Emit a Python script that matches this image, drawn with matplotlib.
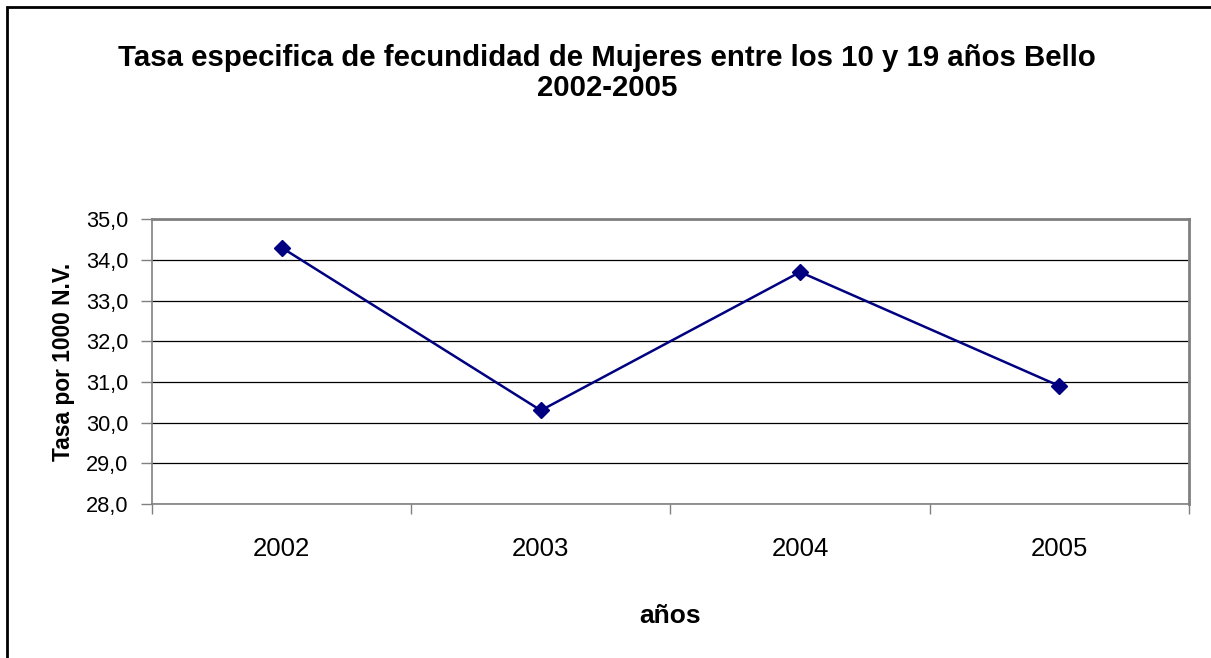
import matplotlib.pyplot as plt
from matplotlib.patches import Rectangle
from matplotlib.ticker import FuncFormatter, FixedLocator

years = ['2002', '2003', '2004', '2005']
tasa = [34.3, 30.3, 33.7, 30.9]

plt.rcParams['font.family'] = ['Liberation Sans', 'DejaVu Sans']

fig = plt.figure(figsize=(12.11, 6.58), dpi=100)
ax = fig.add_axes([0.1255, 0.234, 0.8563, 0.433])

x = range(len(years))
ax.plot(x, tasa, color='#000080', linewidth=1.8, marker='D', markersize=8,
        markerfacecolor='#000080', markeredgecolor='#000080', zorder=3)

ax.set_xlim(-0.5, len(years) - 0.5)
ax.set_ylim(28, 35)
ax.set_yticks([28, 29, 30, 31, 32, 33, 34, 35])
ax.yaxis.set_major_formatter(FuncFormatter(lambda v, p: f'{v:.1f}'.replace('.', ',')))
ax.grid(axis='y', color='black', linewidth=0.9)
ax.set_axisbelow(True)

# category labels at centres, tick marks at category edges (Excel style)
ax.set_xticks(list(x))
ax.set_xticklabels(years, fontsize=18.5)
ax.tick_params(axis='x', which='major', length=0, pad=24)
ax.xaxis.set_minor_locator(FixedLocator([i - 0.5 for i in range(len(years) + 1)]))
ax.tick_params(axis='x', which='minor', length=7, width=1, color='#808080', direction='out')
ax.tick_params(axis='y', length=8, width=1, color='#808080', labelsize=15.7, pad=9)

for s in ['top', 'right']:
    ax.spines[s].set_color('#808080')
    ax.spines[s].set_linewidth(2)
for s in ['left', 'bottom']:
    ax.spines[s].set_color('#808080')
    ax.spines[s].set_linewidth(1.2)

ax.set_ylabel('Tasa por 1000 N.V.', fontsize=16.4, fontweight='bold', labelpad=8)
ax.set_xlabel('años', fontsize=19, fontweight='bold', labelpad=31)

fig.text(0.5015, 0.889, 'Tasa especifica de fecundidad de Mujeres entre los 10 y 19 años Bello\n2002-2005',
         ha='center', va='center', fontsize=21.2, fontweight='bold', linespacing=1.12)

# outer chart border (image cropped on right and bottom)
fig.patches.append(Rectangle((7 / 1211, -0.1), 1.2, 1 - 7 / 658 + 0.1, transform=fig.transFigure,
                             fill=False, edgecolor='black', linewidth=2))

fig.savefig('out.png', dpi=100)
